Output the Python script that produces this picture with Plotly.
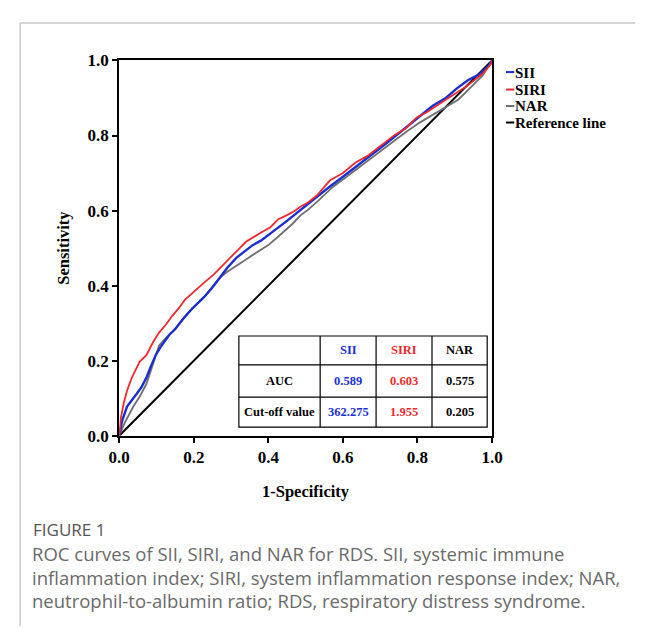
import plotly.graph_objects as go

# ---- data ----
siri_x = [0, 0.005, 0.012, 0.021, 0.034, 0.055, 0.073, 0.09, 0.107, 0.125, 0.142, 0.16, 0.176, 0.19, 0.21,
          0.23, 0.254, 0.275, 0.297, 0.32, 0.34, 0.36, 0.383, 0.405, 0.427, 0.45, 0.47, 0.487, 0.504, 0.53,
          0.565, 0.6, 0.634, 0.665, 0.694, 0.72, 0.738, 0.77, 0.798, 0.825, 0.85, 0.88, 0.91, 0.93, 0.953,
          0.975, 0.997, 1]
siri_y = [0, 0.05, 0.086, 0.12, 0.155, 0.198, 0.215, 0.248, 0.275, 0.296, 0.319, 0.34, 0.362, 0.375, 0.392,
          0.41, 0.43, 0.452, 0.474, 0.497, 0.517, 0.53, 0.543, 0.555, 0.577, 0.588, 0.599, 0.611, 0.62, 0.64,
          0.68, 0.7, 0.728, 0.745, 0.767, 0.785, 0.801, 0.82, 0.848, 0.862, 0.879, 0.898, 0.917, 0.93, 0.948,
          0.965, 0.99, 1]

sii_x = [0, 0.008, 0.021, 0.035, 0.047, 0.06, 0.073, 0.085, 0.098, 0.11, 0.12, 0.135, 0.15, 0.17, 0.193,
         0.21, 0.228, 0.25, 0.271, 0.29, 0.314, 0.335, 0.358, 0.38, 0.4, 0.42, 0.444, 0.465, 0.487, 0.52,
         0.56, 0.6, 0.64, 0.677, 0.715, 0.755, 0.8, 0.841, 0.876, 0.905, 0.936, 0.965, 0.99, 1]
sii_y = [0, 0.04, 0.078, 0.095, 0.112, 0.13, 0.155, 0.185, 0.215, 0.235, 0.25, 0.27, 0.284, 0.31, 0.336,
         0.352, 0.37, 0.395, 0.422, 0.448, 0.474, 0.49, 0.508, 0.52, 0.534, 0.55, 0.568, 0.585, 0.603, 0.63,
         0.66, 0.69, 0.72, 0.749, 0.778, 0.81, 0.845, 0.879, 0.9, 0.925, 0.948, 0.962, 0.985, 1]

nar_x = [0, 0.015, 0.038, 0.055, 0.073, 0.09, 0.107, 0.125, 0.142, 0.165, 0.185, 0.205, 0.228, 0.25, 0.271,
         0.29, 0.314, 0.336, 0.358, 0.38, 0.4, 0.42, 0.444, 0.465, 0.487, 0.504, 0.54, 0.573, 0.61, 0.65,
         0.69, 0.73, 0.77, 0.807, 0.85, 0.88, 0.91, 0.945, 0.975, 1]
nar_y = [0, 0.035, 0.078, 0.105, 0.138, 0.19, 0.241, 0.26, 0.276, 0.303, 0.328, 0.348, 0.37, 0.397, 0.422,
         0.437, 0.452, 0.467, 0.482, 0.495, 0.508, 0.525, 0.545, 0.565, 0.588, 0.6, 0.632, 0.663, 0.69, 0.72,
         0.75, 0.78, 0.81, 0.835, 0.861, 0.88, 0.896, 0.93, 0.96, 1]

ref_x = [0, 1]
ref_y = [0, 1]

tick_vals = [0.0, 0.2, 0.4, 0.6, 0.8, 1.0]
tick_text = ["0.0", "0.2", "0.4", "0.6", "0.8", "1.0"]

table_cols = ["SII", "SIRI", "NAR"]
auc_vals = ["0.589", "0.603", "0.575"]
cutoff_vals = ["362.275", "1.955", "0.205"]
legend_names = ["SII", "SIRI", "NAR", "Reference line"]

BLUE = "#1b2fd0"
RED = "#ec2a30"
GRAY = "#6f6f6f"
BLACK = "#000000"
col_colors = [BLUE, RED, BLACK]
legend_colors = [BLUE, RED, GRAY, BLACK]

SERIF = "Liberation Serif, Times New Roman, serif"
SANS = "Open Sans, sans-serif"

fig = go.Figure()
fig.add_trace(go.Scatter(x=ref_x, y=ref_y, mode="lines", line=dict(color=BLACK, width=2), showlegend=False))
fig.add_trace(go.Scatter(x=nar_x, y=nar_y, mode="lines", line=dict(color=GRAY, width=1.8), showlegend=False))
fig.add_trace(go.Scatter(x=sii_x, y=sii_y, mode="lines", line=dict(color=BLUE, width=2.4), showlegend=False))
fig.add_trace(go.Scatter(x=siri_x, y=siri_y, mode="lines", line=dict(color=RED, width=1.8), showlegend=False))

# plot area in pixels: x 112..498, y 53..440 of a 646x636 canvas
W, H = 646, 636
x0p, x1p, y0p, y1p = 112, 498, 53, 440


def px(xp):
    return xp / W


def py(yp):
    return 1 - yp / H


axis_common = dict(
    range=[0, 1], tickvals=tick_vals, ticktext=tick_text, showgrid=False, zeroline=False,
    showline=True, linecolor=BLACK, linewidth=2, mirror=True,
    ticks="outside", ticklen=5, tickwidth=1.5, tickcolor=BLACK,
    tickfont=dict(family=SERIF, size=17, color=BLACK, weight="bold"),
)
fig.update_layout(
    width=W, height=H, margin=dict(l=0, r=0, t=0, b=0, pad=0),
    paper_bgcolor="white", plot_bgcolor="white",
    xaxis=dict(domain=[px(x0p), px(x1p)], **axis_common),
    yaxis=dict(domain=[py(y1p), py(y0p)], **axis_common),
)

shapes = []
annotations = []

# outer figure frame (light gray lines top and left)
shapes.append(dict(type="line", xref="paper", yref="paper", x0=px(9.5), x1=1, y0=py(14.5), y1=py(14.5),
                   line=dict(color="#c8c8c8", width=1.5)))
shapes.append(dict(type="line", xref="paper", yref="paper", x0=px(9.5), x1=px(9.5), y0=0, y1=py(14.5),
                   line=dict(color="#c8c8c8", width=1.5)))

# table inside plot (data coordinates)
tx = [0.321, 0.539, 0.689, 0.839, 0.987]
ty = [0.023, 0.103, 0.189, 0.266]
shapes.append(dict(type="rect", xref="x", yref="y", x0=tx[0], x1=tx[-1], y0=ty[0], y1=ty[-1],
                   line=dict(color=BLACK, width=1.2), fillcolor="white", layer="above"))
for xv in tx[1:-1]:
    shapes.append(dict(type="line", xref="x", yref="y", x0=xv, x1=xv, y0=ty[0], y1=ty[-1],
                       line=dict(color=BLACK, width=1.2)))
for yv in ty[1:-1]:
    shapes.append(dict(type="line", xref="x", yref="y", x0=tx[0], x1=tx[-1], y0=yv, y1=yv,
                       line=dict(color=BLACK, width=1.2)))

tfont = dict(family=SERIF, size=12.5, weight="bold")
row_centers = [(ty[2] + ty[3]) / 2, (ty[1] + ty[2]) / 2, (ty[0] + ty[1]) / 2]
col_centers = [(tx[i] + tx[i + 1]) / 2 for i in range(4)]
annotations.append(dict(x=col_centers[0], y=row_centers[1], text="AUC", showarrow=False, xref="x", yref="y",
                        font=dict(color=BLACK, **tfont)))
annotations.append(dict(x=col_centers[0], y=row_centers[2], text="Cut-off value", showarrow=False, xref="x",
                        yref="y", font=dict(color=BLACK, **tfont)))
for i, name in enumerate(table_cols):
    c = col_colors[i]
    annotations.append(dict(x=col_centers[i + 1], y=row_centers[0], text=name, showarrow=False, xref="x",
                            yref="y", font=dict(color=c, **tfont)))
    annotations.append(dict(x=col_centers[i + 1], y=row_centers[1], text=auc_vals[i], showarrow=False, xref="x",
                            yref="y", font=dict(color=c, **tfont)))
    annotations.append(dict(x=col_centers[i + 1], y=row_centers[2], text=cutoff_vals[i], showarrow=False,
                            xref="x", yref="y", font=dict(color=c, **tfont)))

# legend (manual, right of plot): short colored line + bold label
leg_y = [65, 83, 100, 117]
for name, c, yp in zip(legend_names, legend_colors, leg_y):
    shapes.append(dict(type="line", xref="paper", yref="paper", x0=px(512.5), x1=px(521), y0=py(yp), y1=py(yp),
                       line=dict(color=c, width=2)))
    annotations.append(dict(xref="paper", yref="paper", x=px(520), y=py(yp + 0.5), xanchor="left",
                            yanchor="middle", showarrow=False, text=name,
                            font=dict(family=SERIF, size=15, color=BLACK, weight="bold")))

# axis titles
annotations.append(dict(xref="paper", yref="paper", x=px((x0p + x1p) / 2), y=py(497), text="1-Specificity",
                        showarrow=False, xanchor="center", yanchor="middle",
                        font=dict(family=SERIF, size=16.5, color=BLACK, weight="bold")))
annotations.append(dict(xref="paper", yref="paper", x=px(55), y=py(246), text="Sensitivity", textangle=-90,
                        showarrow=False, xanchor="center", yanchor="middle",
                        font=dict(family=SERIF, size=16.5, color=BLACK, weight="bold")))

# caption
annotations.append(dict(xref="paper", yref="paper", x=px(21), y=py(537), text="FIGURE 1", showarrow=False,
                        xanchor="left", yanchor="middle",
                        font=dict(family=SANS, size=17, color="#555555")))
caption_lines = [
    "ROC curves of SII, SIRI, and NAR for RDS. SII, systemic immune",
    "inflammation index; SIRI, system inflammation response index; NAR,",
    "neutrophil-to-albumin ratio; RDS, respiratory distress syndrome.",
]
for line, yp in zip(caption_lines, [561, 586, 610]):
    annotations.append(dict(xref="paper", yref="paper", x=px(20), y=py(yp), text=line, showarrow=False,
                            xanchor="left", yanchor="middle",
                            font=dict(family=SANS, size=18.5, color="#6a6a6a")))

fig.update_layout(shapes=shapes, annotations=annotations)
fig.write_html("out.html", config={"displayModeBar": False},
               post_script="document.body.style.margin='0';document.body.style.padding='0';")
